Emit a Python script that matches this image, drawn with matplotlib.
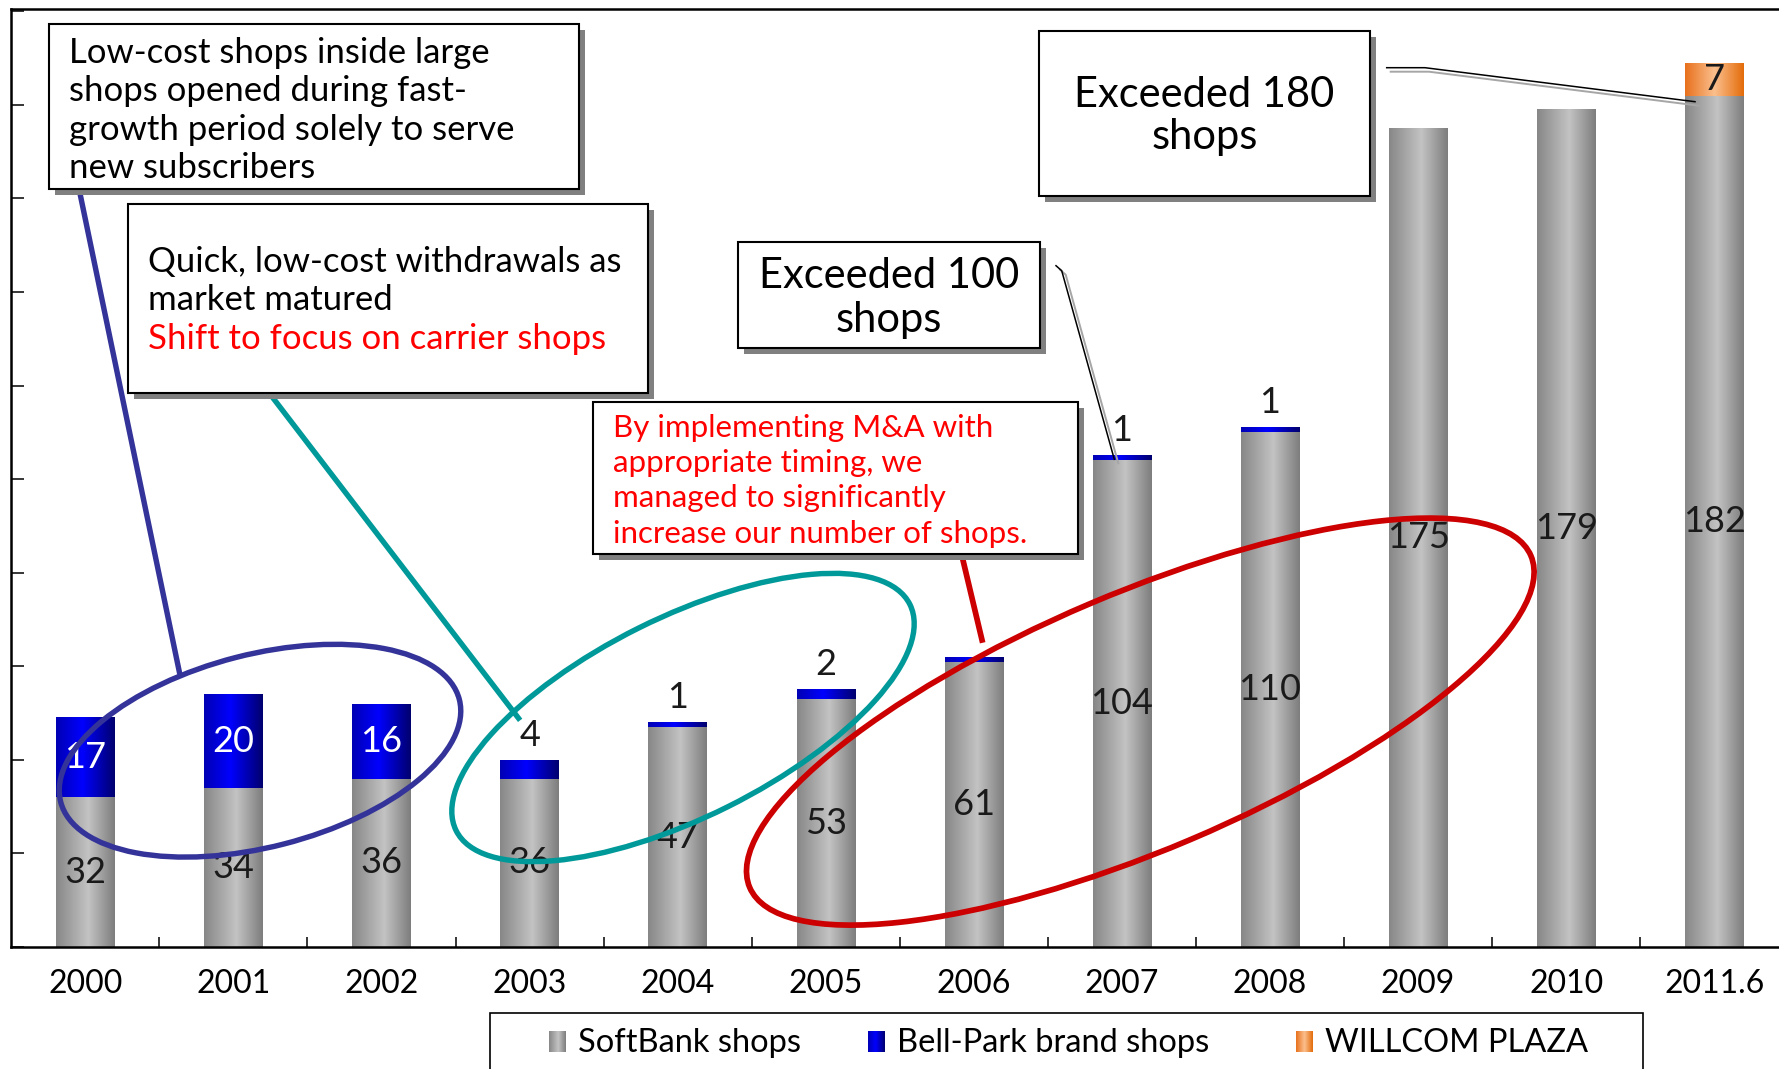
import numpy as np
import matplotlib.pyplot as plt
from matplotlib.patches import Rectangle, Ellipse
from matplotlib.colors import LinearSegmentedColormap

plt.rcParams['font.family'] = ['Lato', 'DejaVu Sans']

years = ['2000', '2001', '2002', '2003', '2004', '2005',
         '2006', '2007', '2008', '2009', '2010', '2011.6']
softbank = [32, 34, 36, 36, 47, 53, 61, 104, 110, 175, 179, 182]
bellpark = [17, 20, 16, 4, 1, 2, 1, 1, 1, 0, 0, 0]
willcom = [0, 0, 0, 0, 0, 0, 0, 0, 0, 0, 0, 7]
# 2006 bell-park count is not printed on the chart
bellpark_text = ['17', '20', '16', '4', '1', '2', '', '1', '1', '', '', '']

W, H = 1779, 1069
fig = plt.figure(figsize=(W / 100, H / 100), dpi=100)
ax = fig.add_axes([11.3 / W, 122 / H, 1777 / W, 938 / H])

gray_cm = LinearSegmentedColormap.from_list(
    'sb', [(0, '#878787'), (0.55, '#c3c3c3'), (1, '#7d7d7d')])
blue_cm = LinearSegmentedColormap.from_list(
    'bp', [(0, '#0000b4'), (0.45, '#0000ff'), (1, '#00006e')])
orange_cm = LinearSegmentedColormap.from_list(
    'wp', [(0, '#e8701c'), (0.5, '#fbbf8d'), (1, '#e46c0a')])
ramp = np.linspace(0, 1, 256)[None, :]


def shade(target, bars, cmap, z=2):
    # paint a cylinder-like horizontal gradient into every bar
    for b in bars:
        h = b.get_height()
        if h <= 0:
            continue
        x0, y0 = b.get_x(), b.get_y()
        target.imshow(ramp, cmap=cmap, aspect='auto', interpolation='bilinear',
                      extent=(x0, x0 + b.get_width(), y0, y0 + h), zorder=z)


x = np.arange(len(years))
sb = np.array(softbank)
bp = np.array(bellpark)
wp = np.array(willcom)
bw = 0.395

bars_sb = ax.bar(x, sb, width=bw, color='none', linewidth=0)
bars_bp = ax.bar(x, bp, bottom=sb, width=bw, color='none', linewidth=0)
bars_wp = ax.bar(x, wp, bottom=sb + bp, width=bw, color='none', linewidth=0)
shade(ax, bars_sb, gray_cm)
shade(ax, bars_bp, blue_cm)
shade(ax, bars_wp, orange_cm)

for i in range(len(years)):
    ax.text(x[i], sb[i] / 2, str(sb[i]), ha='center', va='center',
            fontsize=26, color='#1a1a1a', zorder=4)
    lbl = bellpark_text[i]
    if lbl and bp[i] >= 10:
        ax.text(x[i], sb[i] + bp[i] / 2, lbl, ha='center', va='center',
                fontsize=26, color='white', zorder=4)
    elif lbl:
        ax.annotate(lbl, (x[i], sb[i] + bp[i]), xytext=(0, 6),
                    textcoords='offset points', ha='center', va='bottom',
                    fontsize=26, color='#1a1a1a', zorder=4)
    if wp[i] > 0:
        ax.text(x[i], sb[i] + bp[i] + wp[i] / 2, str(wp[i]), ha='center',
                va='center', fontsize=26, color='#1a1a1a', zorder=4)

ax.set_xlim(-0.5, len(years) - 0.5)
ax.set_ylim(0, 200.5)
ax.set_yticks(np.arange(0, 201, 20))
ax.tick_params(axis='y', direction='in', length=9, width=1.1, labelleft=False)
ax.set_xticks(x)
ax.set_xticklabels(years, fontsize=23)
ax.tick_params(axis='x', which='major', length=0, pad=16)
ax.set_xticks(x[:-1] + 0.5, minor=True)
ax.tick_params(axis='x', which='minor', direction='in', length=7, width=1.1)
for s in ax.spines.values():
    s.set_linewidth(1.8)

# overlay in pixel units for the call-outs
ov = fig.add_axes([0, 0, 1, 1], zorder=5)
ov.axis('off')


def note_box(x0, y0, x1, y1):
    ov.add_patch(Rectangle((x0 + 6, y0 + 6), x1 - x0, y1 - y0,
                           fc='#808080', ec='none', zorder=3))
    ov.add_patch(Rectangle((x0, y0), x1 - x0, y1 - y0,
                           fc='white', ec='black', lw=1.5, zorder=4))


def note_lines(xt, baselines, lines, size, ha='left'):
    for yb, (txt, col) in zip(baselines, lines):
        ov.text(xt, yb, txt, fontsize=size, color=col, ha=ha, va='baseline',
                zorder=5)


note_box(48.8, 23.8, 578.6, 189.5)
note_lines(69, [63, 101, 139.5, 178],
           [('Low-cost shops inside large', 'black'),
            ('shops opened during fast-', 'black'),
            ('growth period solely to serve', 'black'),
            ('new subscribers', 'black')], 25)

note_box(128, 204.2, 647.9, 392.6)
note_lines(147.5, [272, 310.5, 349],
           [('Quick, low-cost withdrawals as', 'black'),
            ('market matured', 'black'),
            ('Shift to focus on carrier shops', '#ff0000')], 25)

note_box(737.7, 242, 1040, 347.7)
note_lines(889, [288, 332],
           [('Exceeded 100', 'black'), ('shops', 'black')], 30, ha='center')

note_box(1039, 30.6, 1369.5, 196)
note_lines(1204.5, [107, 149],
           [('Exceeded 180', 'black'), ('shops', 'black')], 30, ha='center')

note_box(593.4, 401.7, 1077.7, 554)
note_lines(612.7, [437, 472, 507, 543],
           [('By implementing M&A with', '#ff0000'),
            ('appropriate timing, we', '#ff0000'),
            ('managed to significantly', '#ff0000'),
            ('increase our number of shops.', '#ff0000')], 22.5)

# grouping ellipses and their leader lines
ov.add_patch(Ellipse((260, 750.7), 411.6, 192.6, angle=-14.4, fill=False,
                     ec='#333399', lw=3.9, zorder=2))
ov.add_patch(Ellipse((683, 717.5), 507, 199.7, angle=-26.5, fill=False,
                     ec='#009999', lw=3.9, zorder=2))
ov.add_patch(Ellipse((1140.3, 721.6), 848.7, 256.4, angle=-23, fill=False,
                     ec='#cc0000', lw=4.1, zorder=2))
ov.plot([79.4, 179.3], [190.6, 671.7], color='#333399', lw=3.9, zorder=2)
ov.plot([268.9, 518.5], [392.6, 718.2], color='#009999', lw=3.9, zorder=2)
ov.plot([962, 982], [556, 640], color='#cc0000', lw=4.1, zorder=2)

# thin pointers with a soft grey shadow
for px, py in [([1056, 1061.7, 1114.3], [265.7, 270.7, 459.3]),
               ([1386.7, 1425, 1695], [67.7, 67.7, 101.7])]:
    ov.plot(np.array(px) + 4, np.array(py) + 4, color='#a6a6a6', lw=1.4, zorder=2)
    ov.plot(px, py, color='black', lw=1.1, zorder=2)

# legend box along the bottom edge
ov.add_patch(Rectangle((490, 1013), 1152.7, 70, fc='white', ec='black',
                       lw=1.2, zorder=2))
for x0, cmap, name in [(549, gray_cm, 'SoftBank shops'),
                       (868, blue_cm, 'Bell-Park brand shops'),
                       (1296, orange_cm, 'WILLCOM PLAZA')]:
    ov.imshow(ramp, cmap=cmap, aspect='auto', interpolation='bilinear',
              extent=(x0, x0 + 17, 1052, 1031), zorder=3)
    ov.text(x0 + 29, 1052, name, fontsize=23.5, color='black', ha='left',
            va='baseline', zorder=3)

ov.set_xlim(0, W)
ov.set_ylim(H, 0)

fig.savefig('out.png', dpi=100)
